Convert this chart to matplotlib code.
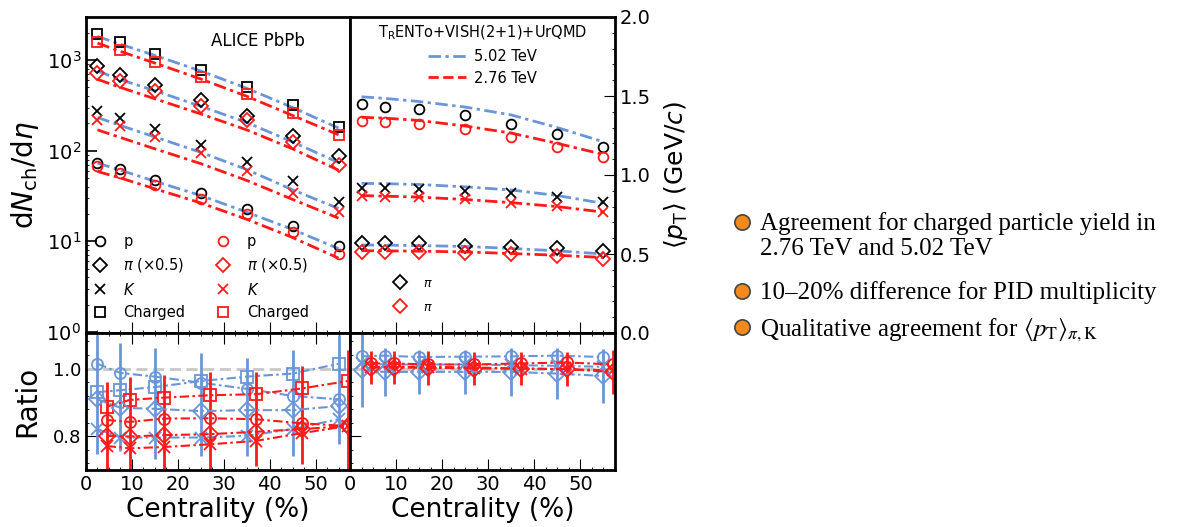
import matplotlib.pyplot as plt
from matplotlib.lines import Line2D
from matplotlib.ticker import MultipleLocator, FixedLocator

W, H = 1182, 527
BLUE = '#6a96d8'
RED = '#ff1a1a'
DASHDOT = (4.5, 1.6, 1.2, 1.6)

cent = [2.5, 7.5, 15, 25, 35, 45, 55]
cent_shift = [4.5, 9.5, 17, 27, 37, 47, 57]   # 2.76 TeV ratio points are shifted

# dNch/deta (pion scaled by 0.5)
alice502_p = [73, 63, 48, 34, 23, 14.7, 8.9]
alice502_pi = [865, 681, 527, 359, 240, 147, 88]
alice502_k = [278, 231, 174, 115, 76, 46, 27]
alice502_ch = [1943, 1587, 1180, 786, 512, 318, 183]
alice276_p = [67, 57, 42, 29, 20, 12.7, 7.3]
alice276_pi = [729, 589, 456, 311, 217, 124, 70]
alice276_k = [221, 186, 142, 94, 60, 34, 21]
alice276_ch = [1601, 1294, 966, 649, 426, 261, 149]

model502_p = [73, 61, 46, 32, 21, 13.5, 8.3]
model502_pi = [760, 610, 460, 310, 205, 125, 74]
model502_k = [233, 190, 142, 96, 62, 37, 23]
model502_ch = [1830, 1500, 1130, 760, 490, 300, 178]
model276_p = [59, 50, 38, 26.5, 17.5, 11, 6.5]
model276_pi = [615, 500, 375, 255, 170, 105, 61]
model276_k = [170, 140, 105, 72, 47, 29, 18]
model276_ch = [1545, 1250, 930, 620, 400, 245, 150]

# <pT>
pt502_p = [1.449, 1.432, 1.418, 1.38, 1.323, 1.258, 1.179]
pt502_k = [0.916, 0.916, 0.911, 0.901, 0.884, 0.863, 0.831]
pt502_pi = [0.568, 0.568, 0.568, 0.551, 0.542, 0.536, 0.521]
pt276_p = [1.342, 1.337, 1.321, 1.289, 1.243, 1.179, 1.112]
pt276_k = [0.867, 0.863, 0.859, 0.846, 0.825, 0.804, 0.768]
pt276_pi = [0.511, 0.511, 0.511, 0.508, 0.5, 0.487, 0.466]
ptmodel502_p = [1.495, 1.485, 1.465, 1.43, 1.38, 1.30, 1.21]
ptmodel502_k = [0.947, 0.945, 0.94, 0.925, 0.905, 0.87, 0.82]
ptmodel502_pi = [0.557, 0.556, 0.553, 0.548, 0.535, 0.52, 0.50]
ptmodel276_p = [1.365, 1.36, 1.345, 1.31, 1.265, 1.20, 1.13]
ptmodel276_k = [0.87, 0.866, 0.86, 0.845, 0.825, 0.80, 0.765]
ptmodel276_pi = [0.521, 0.52, 0.518, 0.513, 0.503, 0.492, 0.478]

# ratios, dNch/deta
ratio502_p = [1.014, 0.987, 0.976, 0.958, 0.94, 0.919, 0.909]
ratio502_ch = [0.93, 0.936, 0.945, 0.963, 0.976, 0.985, 1.014]
ratio502_pi = [0.909, 0.884, 0.881, 0.874, 0.877, 0.877, 0.889]
ratio502_k = [0.821, 0.796, 0.796, 0.796, 0.801, 0.821, 0.85]
ratio502_pi_lo = [0.162, 0.128, 0.149, 0.133, 0.136, 0.136, 0.113]
ratio502_pi_hi = [0.191, 0.192, 0.181, 0.173, 0.155, 0.179, 0.211]
ratio276_p = [0.848, 0.842, 0.852, 0.853, 0.85, 0.838, 0.83]
ratio276_ch = [0.887, 0.907, 0.914, 0.921, 0.924, 0.941, 0.963]
ratio276_pi = [0.801, 0.799, 0.803, 0.806, 0.813, 0.821, 0.83]
ratio276_k = [0.771, 0.764, 0.768, 0.776, 0.786, 0.809, 0.83]
ratio276_pi_lo = [0.111, 0.109, 0.113, 0.116, 0.1, 0.103, 0.14]
ratio276_pi_hi = [0.159, 0.175, 0.179, 0.184, 0.177, 0.186, 0.226]

# ratios, <pT>
ptratio502_p = [1.036, 1.038, 1.034, 1.035, 1.036, 1.038, 1.034]
ptratio502_k = [1.015, 1.012, 1.012, 1.012, 1.010, 1.008, 1.005]
ptratio502_pi = [0.995, 0.99, 0.99, 0.99, 0.99, 0.985, 0.978]
ptratio502_pi_err = [0.11, 0.07, 0.065, 0.065, 0.07, 0.075, 0.08]
ptratio276_p = [1.015, 1.015, 1.012, 1.012, 1.015, 1.018, 1.012]
ptratio276_k = [1.005, 1.005, 1.005, 1.003, 1.0, 0.998, 0.995]
ptratio276_pi = [1.003, 1.003, 1.002, 1.0, 1.0, 0.998, 0.99]
ptratio276_pi_err = [0.05, 0.05, 0.05, 0.05, 0.05, 0.05, 0.065]

bullets = ['Agreement for charged particle yield in\n2.76 TeV and 5.02 TeV',
           '10\u201320% difference for PID multiplicity',
           r'Qualitative agreement for $\langle p_{\rm T}\rangle_{\pi,{\rm K}}$']


def px_axes(fig, x0, y0, x1, y1):
    return fig.add_axes([x0 / W, 1 - y1 / H, (x1 - x0) / W, (y1 - y0) / H])


def open_marker(ax, x, y, m, c, ms=7):
    ax.plot(x, y, ls='none', marker=m, ms=ms, mfc='none', mec=c, mew=1.3)


def model_line(ax, x, y, c, lw=2):
    ax.plot(x, y, color=c, lw=lw, dashes=DASHDOT)


fig = plt.figure(figsize=(W / 100, H / 100), dpi=100)

ax_tl = px_axes(fig, 86, 17, 350, 333)
ax_tr = px_axes(fig, 350, 17, 615, 333)
ax_bl = px_axes(fig, 86, 333, 350, 470)
ax_br = px_axes(fig, 350, 333, 615, 470)

for ax in (ax_tl, ax_tr, ax_bl, ax_br):
    ax.set_xlim(0, 57.5)
    ax.xaxis.set_major_locator(MultipleLocator(10))
    ax.xaxis.set_minor_locator(MultipleLocator(2.5))
    for s in ax.spines.values():
        s.set_linewidth(2)

# ---- top left: dNch/deta
ax = ax_tl
ax.set_yscale('log')
ax.set_ylim(0.97, 3000)
markers = ['o', 'D', 'x', 's']
for m, d, mod in zip(markers,
                     [alice502_p, alice502_pi, alice502_k, alice502_ch],
                     [model502_p, model502_pi, model502_k, model502_ch]):
    model_line(ax, cent, mod, BLUE)
    open_marker(ax, cent, d, m, 'black')
for m, d, mod in zip(markers,
                     [alice276_p, alice276_pi, alice276_k, alice276_ch],
                     [model276_p, model276_pi, model276_k, model276_ch]):
    model_line(ax, cent, mod, RED)
    open_marker(ax, cent, d, m, RED)
ax.set_ylabel(r'd$N_{\rm ch}$/d$\eta$', fontsize=20, labelpad=4)
ax.tick_params(axis='y', which='both', direction='in', labelsize=14, left=True, right=False)
ax.tick_params(axis='y', which='major', length=8, width=1.2)
ax.tick_params(axis='x', which='both', direction='in', labelbottom=False, top=False)
ax.tick_params(axis='x', which='major', length=8)
ax.text(0.65, 0.925, 'ALICE PbPb', transform=ax.transAxes, ha='center', va='center', fontsize=12)
labels = ['p', r'$\pi$ ($\times$0.5)', r'$K$', 'Charged']
handles = [Line2D([], [], ls='none', marker=m, ms=7, mfc='none', mec=c, mew=1.3)
           for c in ('black', RED) for m in markers]
ax.legend(handles, labels + labels, ncol=2, frameon=False, loc='lower left',
          bbox_to_anchor=(-0.035, 0.0), fontsize=10.5, handletextpad=0.9,
          columnspacing=1.9, labelspacing=0.5, handlelength=1.4)

# ---- top right: <pT>
ax = ax_tr
ax.set_ylim(0, 2.0)
for m, d, mod in zip(['o', 'x', 'D'], [pt502_p, pt502_k, pt502_pi],
                     [ptmodel502_p, ptmodel502_k, ptmodel502_pi]):
    model_line(ax, cent, mod, BLUE)
    open_marker(ax, cent, d, m, 'black')
for m, d, mod in zip(['o', 'x', 'D'], [pt276_p, pt276_k, pt276_pi],
                     [ptmodel276_p, ptmodel276_k, ptmodel276_pi]):
    model_line(ax, cent, mod, RED)
    open_marker(ax, cent, d, m, RED)
ax.yaxis.tick_right()
ax.yaxis.set_label_position('right')
ax.yaxis.set_major_locator(MultipleLocator(0.5))
ax.yaxis.set_minor_locator(MultipleLocator(0.1))
ax.tick_params(axis='y', which='both', direction='in', labelsize=14, left=False, right=True)
ax.tick_params(axis='y', which='major', length=8)
ax.tick_params(axis='x', which='both', direction='in', labelbottom=False, top=False)
ax.tick_params(axis='x', which='major', length=8)
ax.set_ylabel(r'$\langle p_{\rm T}\rangle$ (GeV/$c$)', fontsize=18, labelpad=8)
mh = [Line2D([], [], color=BLUE, lw=2, dashes=DASHDOT),
      Line2D([], [], color=RED, lw=2, ls='--')]
lg = ax.legend(mh, ['5.02 TeV', '2.76 TeV'], frameon=False, loc='upper center',
               bbox_to_anchor=(0.5, 1.01), fontsize=10.5, handlelength=2.6,
               title=r'T$_{\rm R}$ENTo+VISH(2+1)+UrQMD', title_fontsize=10.5,
               labelspacing=0.45, borderaxespad=0.3, handletextpad=0.5)
ax.add_artist(lg)
ph = [Line2D([], [], ls='none', marker='D', ms=7, mfc='none', mec=c, mew=1.3)
      for c in ('black', RED)]
ax.legend(ph, [r'$\pi$', r'$\pi$'], frameon=False, loc='lower left',
          bbox_to_anchor=(0.1, 0.025), fontsize=9, labelspacing=0.9)

# ---- bottom left: ratio of dNch/deta
ax = ax_bl
ax.set_ylim(0.70, 1.105)
ax.axhline(1.0, color='#c8c8c8', lw=2, ls='--', dashes=(4, 2))
for m, r in zip(['o', 's', 'x'], [ratio502_p, ratio502_ch, ratio502_k]):
    ax.plot(cent, r, color=BLUE, lw=1.5, dashes=DASHDOT, marker=m, ms=8,
            mfc='none', mec=BLUE, mew=1.3)
ax.errorbar(cent, ratio502_pi, yerr=[ratio502_pi_lo, ratio502_pi_hi], color=BLUE,
            lw=1.5, dashes=DASHDOT, marker='D', ms=8, mfc='none', mec=BLUE, mew=1.3,
            elinewidth=2, capsize=0)
for m, r in zip(['o', 's', 'x'], [ratio276_p, ratio276_ch, ratio276_k]):
    ax.plot(cent_shift, r, color=RED, lw=1.5, dashes=DASHDOT, marker=m, ms=8,
            mfc='none', mec=RED, mew=1.3)
ax.errorbar(cent_shift, ratio276_pi, yerr=[ratio276_pi_lo, ratio276_pi_hi], color=RED,
            lw=1.5, dashes=DASHDOT, marker='D', ms=8, mfc='none', mec=RED, mew=1.3,
            elinewidth=2, capsize=0)
ax.yaxis.set_major_locator(FixedLocator([0.8, 1.0]))
ax.yaxis.set_minor_locator(MultipleLocator(0.04))
ax.tick_params(which='both', direction='in', labelsize=13, top=True, right=False)
ax.tick_params(axis='x', labelsize=14)
ax.tick_params(which='major', length=8)
ax.set_ylabel('Ratio', fontsize=20, labelpad=8)
ax.set_xlabel('Centrality (%)', fontsize=19, labelpad=2)

# ---- bottom right: ratio of <pT>
ax = ax_br
ax.set_ylim(0.70, 1.105)
ax.axhline(1.0, color='#c8c8c8', lw=2, ls='--', dashes=(4, 2))
for m, r in zip(['o', 'x'], [ptratio502_p, ptratio502_k]):
    ax.plot(cent, r, color=BLUE, lw=1.5, dashes=DASHDOT, marker=m, ms=8,
            mfc='none', mec=BLUE, mew=1.3)
ax.errorbar(cent, ptratio502_pi, yerr=ptratio502_pi_err, color=BLUE, lw=1.5,
            dashes=DASHDOT, marker='D', ms=8, mfc='none', mec=BLUE, mew=1.3,
            elinewidth=2, capsize=0)
for m, r in zip(['o', 'x'], [ptratio276_p, ptratio276_k]):
    ax.plot(cent_shift, r, color=RED, lw=1.5, dashes=DASHDOT, marker=m, ms=8,
            mfc='none', mec=RED, mew=1.3)
ax.errorbar(cent_shift, ptratio276_pi, yerr=ptratio276_pi_err, color=RED, lw=1.5,
            dashes=DASHDOT, marker='D', ms=8, mfc='none', mec=RED, mew=1.3,
            elinewidth=2, capsize=0)
ax.yaxis.set_major_locator(FixedLocator([0.8, 1.0]))
ax.yaxis.set_minor_locator(MultipleLocator(0.04))
ax.tick_params(which='both', direction='in', labelsize=14, top=True, right=False,
               labelleft=False)
ax.tick_params(which='major', length=8)
ax.set_xlabel('Centrality (%)', fontsize=19, labelpad=2)

# ---- bullet list on the right
ys = [222, 291, 327]
for y, txt in zip(ys, bullets):
    fig.add_artist(Line2D([742 / W], [1 - y / H], transform=fig.transFigure,
                          marker='o', ms=11, mfc='#f28a1e', mec='#444444', mew=1.2))
    fig.text(760 / W, 1 - (y - 10) / H, txt, ha='left', va='top', fontsize=18,
             family='Liberation Serif', math_fontfamily='stix', linespacing=1.2)

fig.savefig('out.png', dpi=100)
